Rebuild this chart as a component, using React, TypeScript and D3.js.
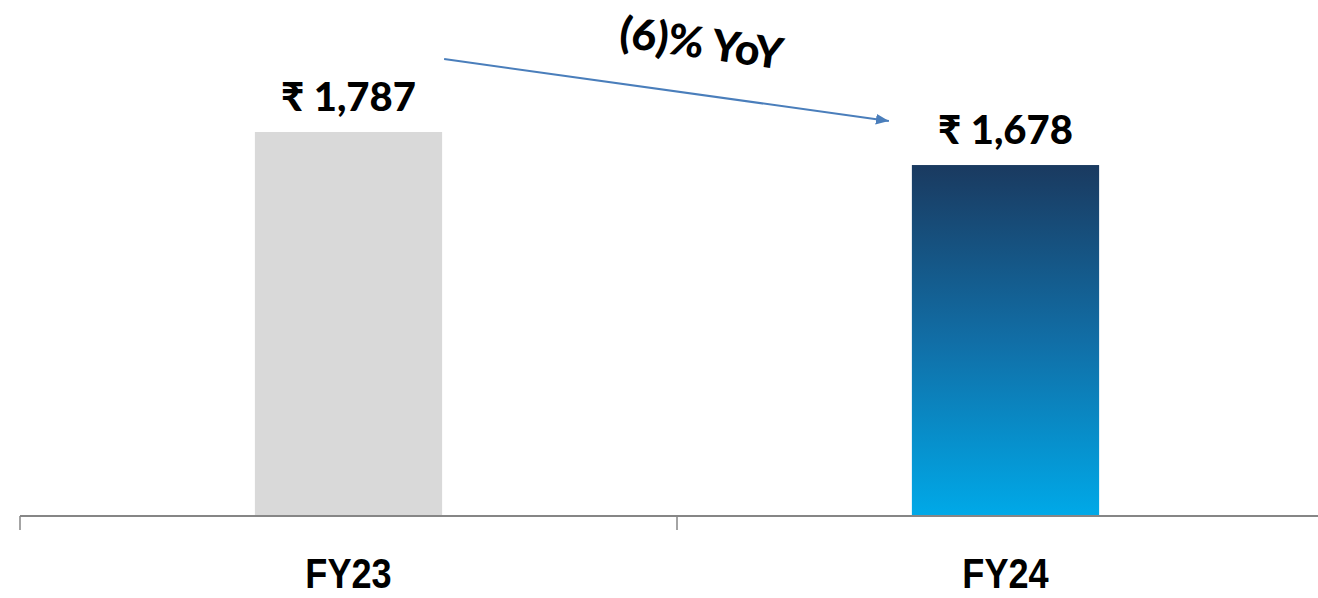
import React from "react";
import * as d3 from "d3";

const categories = ["FY23", "FY24"];
const values = [1787, 1678];
const valueLabels = ["₹ 1,787", "₹ 1,678"];
const yoyLabel = "(6)% YoY";

const W = 1318;
const H = 598;

export default function App() {
  const x = d3.scaleBand<string>().domain(categories).range([20, 1334]).padding(0);
  const y = d3.scaleLinear().domain([520, 1787]).range([516, 132]);
  const bw = x.bandwidth() * 0.285;
  const base = y(520);

  const cx = (c: string) => (x(c) as number) + x.bandwidth() / 2;

  // arrow annotation between the two bars
  const a0 = { x: cx(categories[0]) + bw / 2 + 2, y: y(values[0]) - 73 };
  const a1 = { x: cx(categories[1]) - bw / 2 - 23, y: y(values[1]) - 44 };
  const ang = (Math.atan2(a1.y - a0.y, a1.x - a0.x) * 180) / Math.PI;

  const ticks = [20, 20 + x.step(), 20 + 2 * x.step()];

  return (
    <div style={{ position: "fixed", left: 0, top: 0, width: W, height: H, background: "#fff" }}>
      <svg width={W} height={H} style={{ display: "block" }}>
        <defs>
          <linearGradient id="g24" x1="0" y1="0" x2="0" y2="1">
            <stop offset="0%" stopColor="#1a3a60" />
            <stop offset="50%" stopColor="#116ea6" />
            <stop offset="100%" stopColor="#00a9e8" />
          </linearGradient>
          <marker id="arr" viewBox="0 0 12 10" refX="12" refY="5" markerWidth="13" markerHeight="11" markerUnits="userSpaceOnUse" orient="auto">
            <path d="M0,0 L12,5 L0,10 z" fill="#4a7ebb" />
          </marker>
        </defs>
        {categories.map((c, i) => (
          <rect
            key={c}
            x={cx(c) - bw / 2}
            y={y(values[i])}
            width={bw}
            height={base - y(values[i])}
            fill={i === 0 ? "#d9d9d9" : "url(#g24)"}
          />
        ))}
        <line x1={20} x2={W} y1={base} y2={base} stroke="#868686" strokeWidth={2} />
        {ticks.map((t, i) => (
          <line key={i} x1={t} x2={t} y1={base} y2={base + 14} stroke="#868686" strokeWidth={1.5} />
        ))}
        {categories.map((c, i) => (
          <text
            key={c}
            x={cx(c)}
            y={y(values[i]) - 21}
            textAnchor="middle"
            fontFamily="Lato, 'Noto Sans', sans-serif"
            fontWeight={900}
            fontSize={40}
            fill="#000"
          >
            {valueLabels[i]}
          </text>
        ))}
        {categories.map((c) => (
          <text
            key={c + "l"}
            transform={`translate(${cx(c)},588) scale(0.86,1)`}
            textAnchor="middle"
            fontFamily="'Liberation Sans Narrow', 'Liberation Sans', Arial, sans-serif"
            fontWeight="bold"
            fontSize={42}
            fill="#000"
          >
            {c}
          </text>
        ))}
        <line
          x1={a0.x}
          y1={a0.y}
          x2={a1.x}
          y2={a1.y}
          stroke="#4a7ebb"
          strokeWidth={2}
          markerEnd="url(#arr)"
        />
        <text
          transform={`translate(${(a0.x + a1.x) / 2 + 33},${(a0.y + a1.y) / 2 - 32}) rotate(${ang})`}
          textAnchor="middle"
          fontFamily="Lato, 'Noto Sans', sans-serif"
          fontWeight={900}
          fontSize={43}
          fill="#000"
        >
          {yoyLabel}
        </text>
      </svg>
    </div>
  );
}
